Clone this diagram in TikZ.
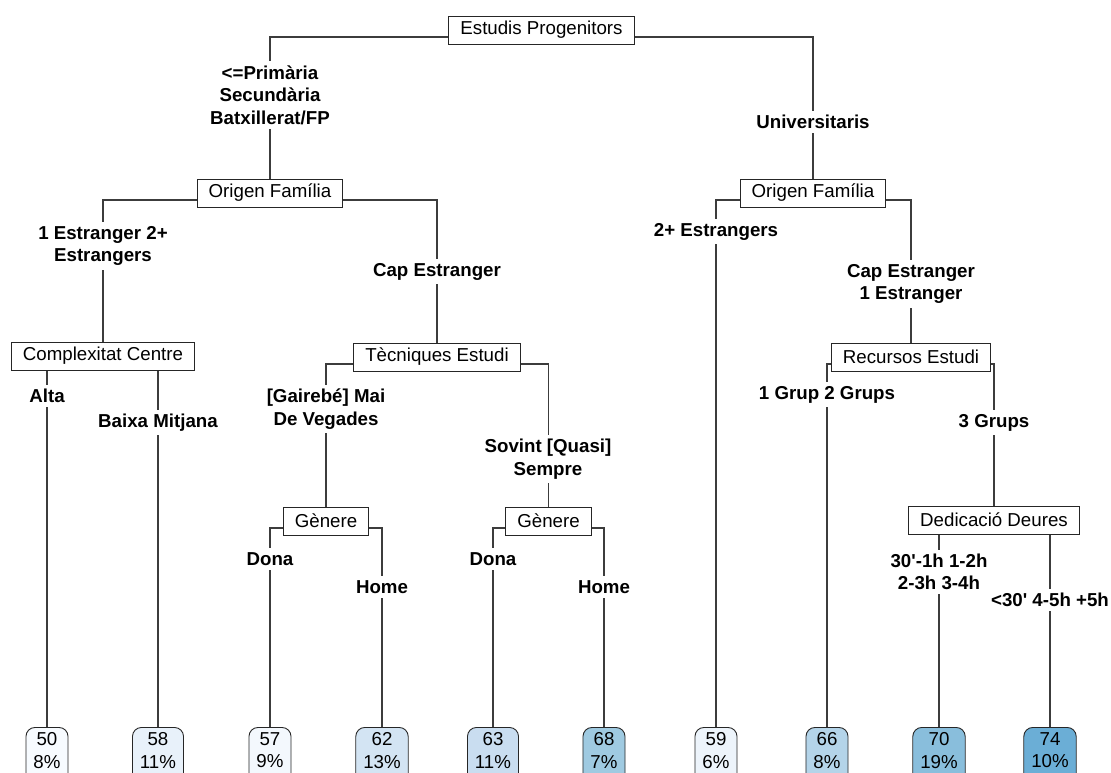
\documentclass[tikz,border=0pt]{standalone}
\usepackage{fontspec}
\newfontfamily\lf{Liberation Sans}
\pgfdeclarelayer{bg}
\pgfsetlayers{bg,main}
\definecolor{c50}{HTML}{F7FBFF}
\definecolor{c57}{HTML}{F3F8FD}
\definecolor{c58}{HTML}{E8F1FA}
\definecolor{c59}{HTML}{EDF4FB}
\definecolor{c62}{HTML}{D3E4F3}
\definecolor{c63}{HTML}{C9DDF0}
\definecolor{c66}{HTML}{B4D4E9}
\definecolor{c68}{HTML}{9FCAE1}
\definecolor{c70}{HTML}{89BEDC}
\definecolor{c74}{HTML}{6BAED6}
\definecolor{ln}{HTML}{3C3C3C}
\newcommand{\lfdeep}{\rule[-12pt]{0pt}{12pt}}
\tikzset{
  edge/.style={draw=ln, line width=1.1pt},
  split/.style={draw=black!85, line width=0.9pt, fill=white,
    font=\lf\fontsize{18.7}{22}\selectfont, inner xsep=11.5pt, inner ysep=0pt,
    minimum height=28pt},
  lab/.style={fill=white, font=\lf\bfseries\fontsize{18.7}{22.5}\selectfont,
    align=center, inner sep=4pt},
  leaf/.style={draw=black!85, line width=0.9pt, rounded corners=9pt,
    font=\lf\fontsize{18.7}{22.5}\selectfont, align=center, inner xsep=7.5pt,
    inner ysep=5pt, anchor=north},
}
\begin{document}
\begin{tikzpicture}[x=1pt,y=-1pt]
\useasboundingbox (0,0) rectangle (1111,772);
\clip (0,0) rectangle (1111,772);
% inner nodes
\node[split] (root) at (541.5,30) {Estudis Progenitors};
\node[split] (o1) at (270,193) {Origen Família};
\node[split] (o2) at (813,193) {Origen Família};
\node[split] (cc) at (103,356) {Complexitat Centre};
\node[split] (te) at (437,357) {Tècniques Estudi};
\node[split] (re) at (911,357) {Recursos Estudi};
\node[split] (g1) at (326,521) {Gènere};
\node[split] (g2) at (548.5,521) {Gènere};
\node[split] (dd) at (994,520) {Dedicació Deures};
% leaves
\node[leaf, fill=c50] (l1) at (47,727) {50\\8\%\lfdeep};
\node[leaf, fill=c58] (l2) at (158,727) {58\\11\%\lfdeep};
\node[leaf, fill=c57] (l3) at (270,727) {57\\9\%\lfdeep};
\node[leaf, fill=c62] (l4) at (382,727) {62\\13\%\lfdeep};
\node[leaf, fill=c63] (l5) at (493,727) {63\\11\%\lfdeep};
\node[leaf, fill=c68] (l6) at (604,727) {68\\7\%\lfdeep};
\node[leaf, fill=c59] (l7) at (716,727) {59\\6\%\lfdeep};
\node[leaf, fill=c66] (l8) at (827,727) {66\\8\%\lfdeep};
\node[leaf, fill=c70] (l9) at (939,727) {70\\19\%\lfdeep};
\node[leaf, fill=c74] (l10) at (1050,727) {74\\10\%\lfdeep};
% connectors
\begin{pgfonlayer}{bg}
\draw[edge] ([yshift=-7pt]root.center) -| (o1.north);
\draw[edge] ([yshift=-7pt]root.center) -| (o2.north);
\draw[edge] ([yshift=-7pt]o1.center) -| (cc.north);
\draw[edge] ([yshift=-7pt]o1.center) -| (te.north);
\draw[edge] ([yshift=-7pt]o2.center) -| (l7.north);
\draw[edge] ([yshift=-7pt]o2.center) -| (re.north);
\draw[edge] ([yshift=-7pt]cc.center) -| (l1.north);
\draw[edge] ([yshift=-7pt]cc.center) -| (l2.north);
\draw[edge] ([yshift=-7pt]te.center) -| (g1.north);
\draw[edge] ([yshift=-7pt]te.center) -| (g2.north);
\draw[edge] ([yshift=-7pt]g1.center) -| (l3.north);
\draw[edge] ([yshift=-7pt]g1.center) -| (l4.north);
\draw[edge] ([yshift=-7pt]g2.center) -| (l5.north);
\draw[edge] ([yshift=-7pt]g2.center) -| (l6.north);
\draw[edge] ([yshift=-7pt]re.center) -| (l8.north);
\draw[edge] ([yshift=-7pt]re.center) -| (dd.north);
\draw[edge] ([yshift=-7pt]dd.center) -| (l9.north);
\draw[edge] ([yshift=-7pt]dd.center) -| (l10.north);
\end{pgfonlayer}
% edge labels
\node[lab] (e1) at (270,95) {<=Primària\\Secundària\\Batxillerat/FP};
\node[lab] (e2) at (813,122) {Universitaris};
\node[lab] (e3) at (103,246) {1 Estranger 2+\\Estrangers};
\node[lab] (e4) at (437,271.5) {Cap Estranger};
\node[lab] (e5) at (716,231.5) {2+ Estrangers};
\node[lab] (e6) at (911,284) {Cap Estranger\\1 Estranger};
\node[lab] (e7) at (47,396) {Alta};
\node[lab] (e8) at (158,422.5) {Baixa Mitjana};
\node[lab] (e9) at (326,409) {[Gairebé] Mai\\De Vegades};
\node[lab] (e10) at (548,459) {Sovint [Quasi]\\Sempre};
\node[lab] (e11) at (827,394.5) {1 Grup 2 Grups};
\node[lab] (e12) at (994,422.5) {3 Grups};
\node[lab] (e13) at (270,559) {Dona};
\node[lab] (e14) at (382,587) {Home};
\node[lab] (e15) at (493,559) {Dona};
\node[lab] (e16) at (604,587) {Home};
\node[lab] (e17) at (939,572) {30'-1h 1-2h\\2-3h 3-4h};
\node[lab] (e18) at (1050,600) {<30' 4-5h +5h};
\end{tikzpicture}
\end{document}
